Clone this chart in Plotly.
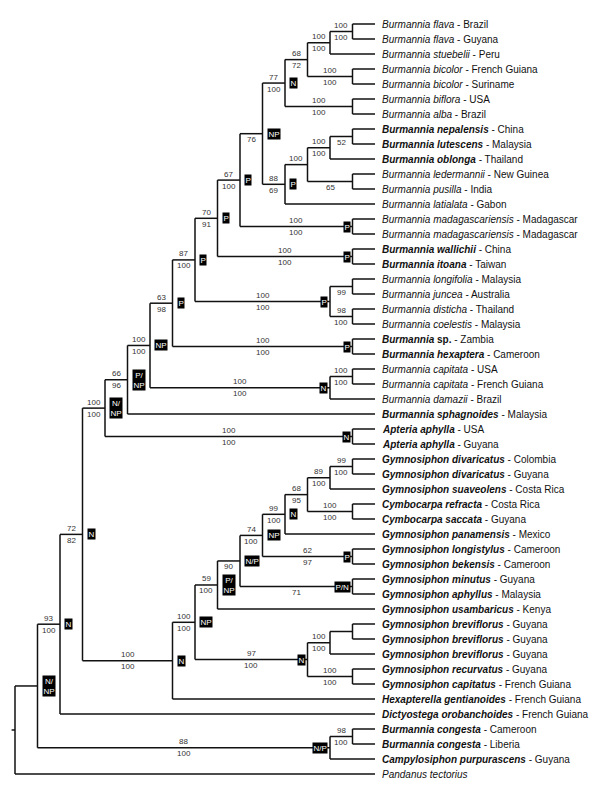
import plotly.graph_objects as go

# ---------------- data ----------------
leaf_taxa = [
    "Burmannia flava", "Burmannia flava", "Burmannia stuebelii", "Burmannia bicolor",
    "Burmannia bicolor", "Burmannia biflora", "Burmannia alba", "Burmannia nepalensis",
    "Burmannia lutescens", "Burmannia oblonga", "Burmannia ledermannii", "Burmannia pusilla",
    "Burmannia latialata", "Burmannia madagascariensis", "Burmannia madagascariensis",
    "Burmannia wallichii", "Burmannia itoana", "Burmannia longifolia", "Burmannia juncea",
    "Burmannia disticha", "Burmannia coelestis", "Burmannia sp.", "Burmannia hexaptera",
    "Burmannia capitata", "Burmannia capitata", "Burmannia damazii", "Burmannia sphagnoides",
    "Apteria aphylla", "Apteria aphylla", "Gymnosiphon divaricatus", "Gymnosiphon divaricatus",
    "Gymnosiphon suaveolens", "Cymbocarpa refracta", "Cymbocarpa saccata",
    "Gymnosiphon panamensis", "Gymnosiphon longistylus", "Gymnosiphon bekensis",
    "Gymnosiphon minutus", "Gymnosiphon aphyllus", "Gymnosiphon usambaricus",
    "Gymnosiphon breviflorus", "Gymnosiphon breviflorus", "Gymnosiphon breviflorus",
    "Gymnosiphon recurvatus", "Gymnosiphon capitatus", "Hexapterella gentianoides",
    "Dictyostega orobanchoides", "Burmannia congesta", "Burmannia congesta",
    "Campylosiphon purpurascens", "Pandanus tectorius",
]
leaf_places = [
    "Brazil", "Guyana", "Peru", "French Guiana", "Suriname", "USA", "Brazil", "China",
    "Malaysia", "Thailand", "New Guinea", "India", "Gabon", "Madagascar", "Madagascar",
    "China", "Taiwan", "Malaysia", "Australia", "Thailand", "Malaysia", "Zambia", "Cameroon",
    "USA", "French Guiana", "Brazil", "Malaysia", "USA", "Guyana", "Colombia", "Guyana",
    "Costa Rica", "Costa Rica", "Guyana", "Mexico", "Cameroon", "Cameroon", "Guyana",
    "Malaysia", "Kenya", "Guyana", "Guyana", "Guyana", "Guyana", "French Guiana",
    "French Guiana", "French Guiana", "Cameroon", "Liberia", "Guyana", "",
]
leaf_bold = [False] * 7 + [True] * 3 + [False] * 5 + [True] * 2 + [False] * 4 + [True] * 2 \
    + [False] * 3 + [True] * 24 + [False]

# internal nodes: name, depth level, children (str = node, int = leaf index)
node_names = ["root", "A", "n2", "n3", "n4", "n5", "n6", "n7", "n8", "n9", "n10", "n11",
              "n12a", "n13a", "n14a", "fla", "bic", "bif", "n12b", "n13b", "n14b", "nep", "led",
              "mad", "wal", "lon", "lj", "dc", "bsp", "cap", "cp", "apt",
              "g7", "g8", "g9", "g10", "g11", "g12", "g13", "g14", "div", "cym", "lon2", "min",
              "g13b", "g14b", "bre", "rec", "cong", "cg"]
node_levels = [0, 1, 2, 3, 4, 5, 6, 7, 8, 9, 10, 11,
               12, 13, 14, 15, 15, 15, 12, 13, 14, 15, 15,
               15, 15, 14, 15, 15, 15, 14, 15, 15,
               7, 8, 9, 10, 11, 12, 13, 14, 15, 15, 15, 15,
               13, 14, 15, 15, 14, 15]
node_children = [["A", 50], ["n2", "cong"], ["n3", 46], ["n4", "g7"], ["n5", "apt"],
                 ["n6", 26], ["n7", "cap"], ["n8", "bsp"], ["n9", "lon"], ["n10", "wal"],
                 ["n11", "mad"], ["n12a", "n12b"],
                 ["n13a", "bif"], ["n14a", "bic"], ["fla", 2], [0, 1], [3, 4], [5, 6],
                 ["n13b", 12], ["n14b", "led"], ["nep", 9], [7, 8], [10, 11],
                 [13, 14], [15, 16], ["lj", "dc"], [17, 18], [19, 20], [21, 22],
                 ["cp", 25], [23, 24], [27, 28],
                 ["g8", 45], ["g9", "g13b"], ["g10", 39], ["g11", "min"], ["g12", "lon2"],
                 ["g13", 34], ["g14", "cym"], ["div", 31], [29, 30], [32, 33], [35, 36],
                 [37, 38],
                 ["g14b", "rec"], ["bre", 42], [40, 41], [43, 44], ["cg", 49], [47, 48]]
support_top = ["", "", "93", "72", "100", "66", "100", "63", "87", "70", "67", "",
               "77", "68", "100", "100", "100", "100", "88", "100", "100", "", "",
               "100", "100", "100", "", "98", "100", "100", "100", "100",
               "100", "100", "59", "", "74", "99", "68", "89", "99", "100", "62", "",
               "97", "100", "", "100", "88", "98"]
support_bottom = ["", "", "100", "82", "100", "96", "100", "98", "100", "91", "100", "76",
                  "100", "72", "100", "100", "100", "100", "69", "", "100", "52", "65",
                  "100", "100", "100", "99", "100", "100", "100", "100", "100",
                  "100", "100", "100", "90", "100", "100", "95", "100", "100", "100", "97", "71",
                  "100", "100", "", "100", "100", "100"]
node_state = ["", "N/NP", "N", "N", "N/NP", "P/NP", "NP", "P", "P", "P", "P", "NP",
              "N", "", "", "", "", "", "P", "", "", "", "",
              "P", "P", "P", "", "", "P", "N", "", "N",
              "N", "NP", "P/NP", "N/P", "NP", "N", "", "", "", "", "P", "P/N",
              "N", "", "", "", "N/P", ""]
state_side = ["", "R", "R", "R", "R", "R", "R", "R", "R", "R", "R", "R",
              "R", "", "", "", "", "", "R", "", "", "", "",
              "L", "L", "L", "", "", "L", "L", "", "L",
              "R", "R", "R", "R", "R", "R", "", "", "", "", "L", "L",
              "L", "", "", "", "L", "", ]
LEAF_LEVEL = 16
ROOT_STEM = 0.15

# ---------------- layout of tree ----------------
FONT = "Liberation Sans, Arial, sans-serif"
idx = {n: i for i, n in enumerate(node_names)}
node_y = {}


def get_y(c):
    if isinstance(c, int):
        return float(c)
    if c not in node_y:
        ys = [get_y(k) for k in node_children[idx[c]]]
        node_y[c] = (min(ys) + max(ys)) / 2
    return node_y[c]


def get_x(c):
    return float(LEAF_LEVEL) if isinstance(c, int) else float(node_levels[idx[c]])


get_y("root")
parent = {}
for n, ch in zip(node_names, node_children):
    for c in ch:
        parent[c] = n

xs, ys = [], []
for n, ch in zip(node_names, node_children):
    nx = get_x(n)
    cys = [get_y(c) for c in ch]
    xs += [nx, nx, None]
    ys += [min(cys), max(cys), None]
    for c in ch:
        xs += [nx, get_x(c), None]
        ys += [get_y(c), get_y(c), None]
xs += [-ROOT_STEM, 0, None]
ys += [get_y("root"), get_y("root"), None]

fig = go.Figure()
fig.add_trace(go.Scatter(x=xs, y=ys, mode="lines",
                         line=dict(color="#111111", width=1.5),
                         hoverinfo="skip", showlegend=False))

ann = []
# leaf labels
for i, (t, p, b) in enumerate(zip(leaf_taxa, leaf_places, leaf_bold)):
    if t.endswith(" sp."):
        name = "<i>%s</i> sp." % t[:-4]
    else:
        name = "<i>%s</i>" % t
    if b:
        name = "<b>%s</b>" % name
    txt = name + (" - " + p if p else "")
    ann.append(dict(x=LEAF_LEVEL, y=i, text=txt, xanchor="left", yanchor="middle",
                    xshift=5, showarrow=False, font=dict(size=10, color="#111111", family=FONT)))

# support values
for n, top, bot in zip(node_names, support_top, support_bottom):
    if n not in parent:
        continue
    mx = (get_x(parent[n]) + get_x(n)) / 2
    y = get_y(n)
    if top:
        ann.append(dict(x=mx, y=y, text=top, showarrow=False, yanchor="middle", yshift=6,
                        font=dict(size=8, color="#333333", family=FONT)))
    if bot:
        ann.append(dict(x=mx, y=y, text=bot, showarrow=False, yanchor="middle", yshift=-6,
                        font=dict(size=8, color="#333333", family=FONT)))

# state boxes
for n, s, side in zip(node_names, node_state, state_side):
    if not s:
        continue
    txt = s
    if s in ("N/NP", "P/NP"):
        txt = s.replace("/", "/<br>")
    ann.append(dict(x=get_x(n), y=get_y(n), text=txt, showarrow=False,
                    xanchor="left" if side == "R" else "right", yanchor="middle",
                    xshift=4 if side == "R" else -2,
                    bgcolor="#000000", borderpad=0.5,
                    font=dict(size=8, color="#ffffff", family=FONT)))

# figure is placed inside the page body (8 px default margin)
fig.update_layout(
    width=584, height=784, autosize=False,
    margin=dict(l=0, r=0, t=0, b=0),
    paper_bgcolor="white", plot_bgcolor="white",
    xaxis=dict(range=[-7 / 22.5, 577 / 22.5], visible=False, fixedrange=True),
    yaxis=dict(range=[768 / 15, -16 / 15], visible=False, fixedrange=True),
    annotations=ann,
    showlegend=False,
)
fig.write_html("out.html")
